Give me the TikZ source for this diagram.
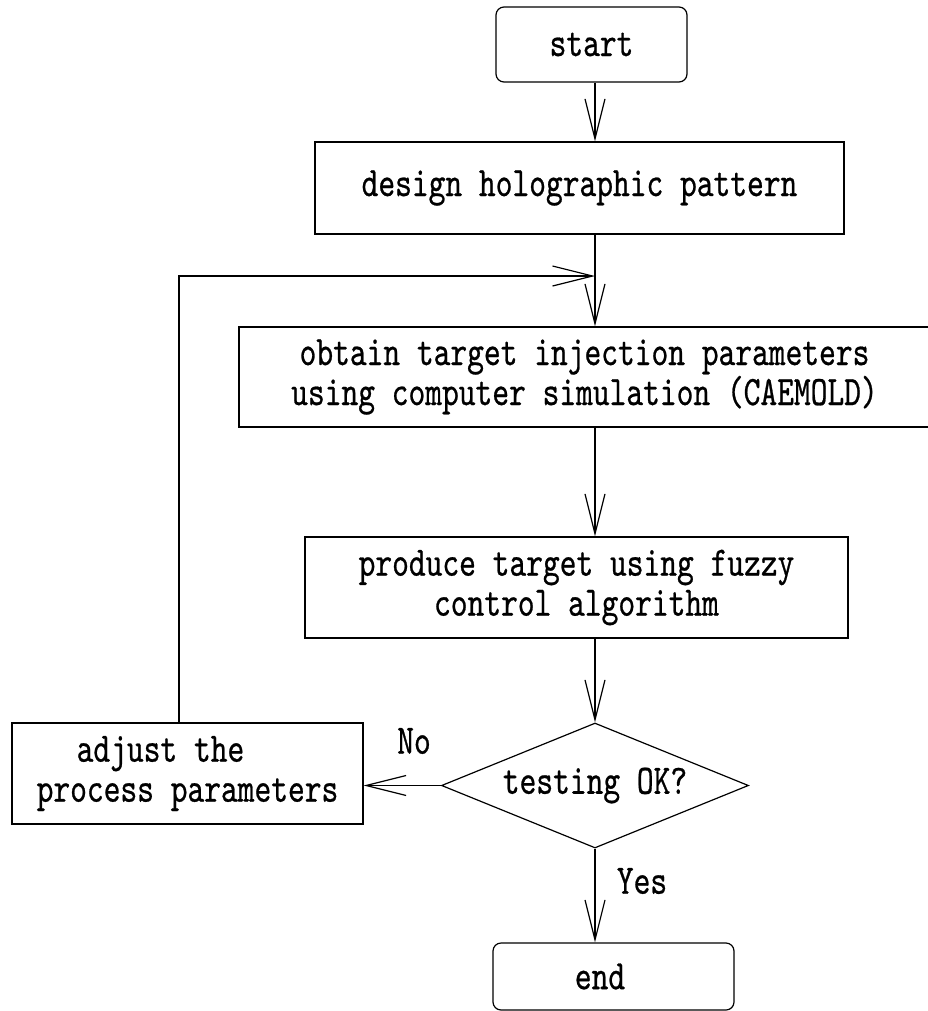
\documentclass[tikz,border=0pt]{standalone}
\usepackage{fontspec}
\newfontfamily\flowfont{lmmono10-regular}[Extension=.otf, FakeStretch=0.76, FakeBold=0.6]
\usetikzlibrary{arrows.meta, shapes.geometric}
\tikzset{
  every picture/.style={line width=0.6pt},
  box/.style={draw, align=center, inner sep=0pt, font=\flowfont\fontsize{21}{20}\selectfont},
  term/.style={box, rounded corners=4pt},
  decision/.style={box, diamond, aspect=2.4},
  arrow/.style={-{Straight Barb[length=20pt, width=10pt]}},
  note/.style={font=\flowfont\fontsize{21}{20}\selectfont},
}

\begin{document}
\begin{tikzpicture}[x=0.5pt, y=-0.5pt]
  \useasboundingbox (0,0) rectangle (927,1011);
  % main column and the return line
  \coordinate (col) at (595,0);
  \coordinate (join) at (595,276);
  \coordinate (back) at (179,276);

  \node[term, minimum width=95.5pt, minimum height=37.5pt] (start) at (591.5,44.5) {start};
  \node[box, minimum width=264.5pt, minimum height=46pt] (design) at (579.5,188) {design holographic pattern};
  \node[box, minimum width=345.5pt, minimum height=50pt] (obtain) at (584.5,377)
    {obtain target injection parameters\\using computer simulation (CAEMOLD)};
  \node[box, minimum width=271.5pt, minimum height=50.5pt] (produce) at (576.5,587.5)
    {produce target using fuzzy\\control algorithm};
  \node[decision, minimum width=153.5pt, minimum height=62.5pt] (test) at (595,785.5) {testing OK?};
  \node[box, align=left, minimum width=175.5pt, minimum height=50.5pt] (adjust) at (187.5,773.5)
    {\hspace*{20pt}adjust the\\process parameters};
  \node[term, minimum width=120.5pt, minimum height=33.5pt] (end) at (613.5,976.5) {end\hspace*{13.5pt}};

  \node[note] (no) at (414,741) {No};
  \node[note] (yes) at (642,881) {Yes};

  \draw[arrow] (start.south -| col) -- (design.north -| col);
  \draw[arrow] (design.south -| col) -- (obtain.north -| col);
  \draw[arrow] (obtain.south -| col) -- (produce.north -| col);
  \draw[arrow] (produce.south -| col) -- (test.north);
  \draw[arrow] (test.west) -- (adjust.east |- test.west);
  \draw[arrow] (test.south) -- (test.south |- end.north);
  % back to the simulation step
  \draw[arrow] (adjust.north -| back) -- (back) -- (join);
\end{tikzpicture}
\end{document}
